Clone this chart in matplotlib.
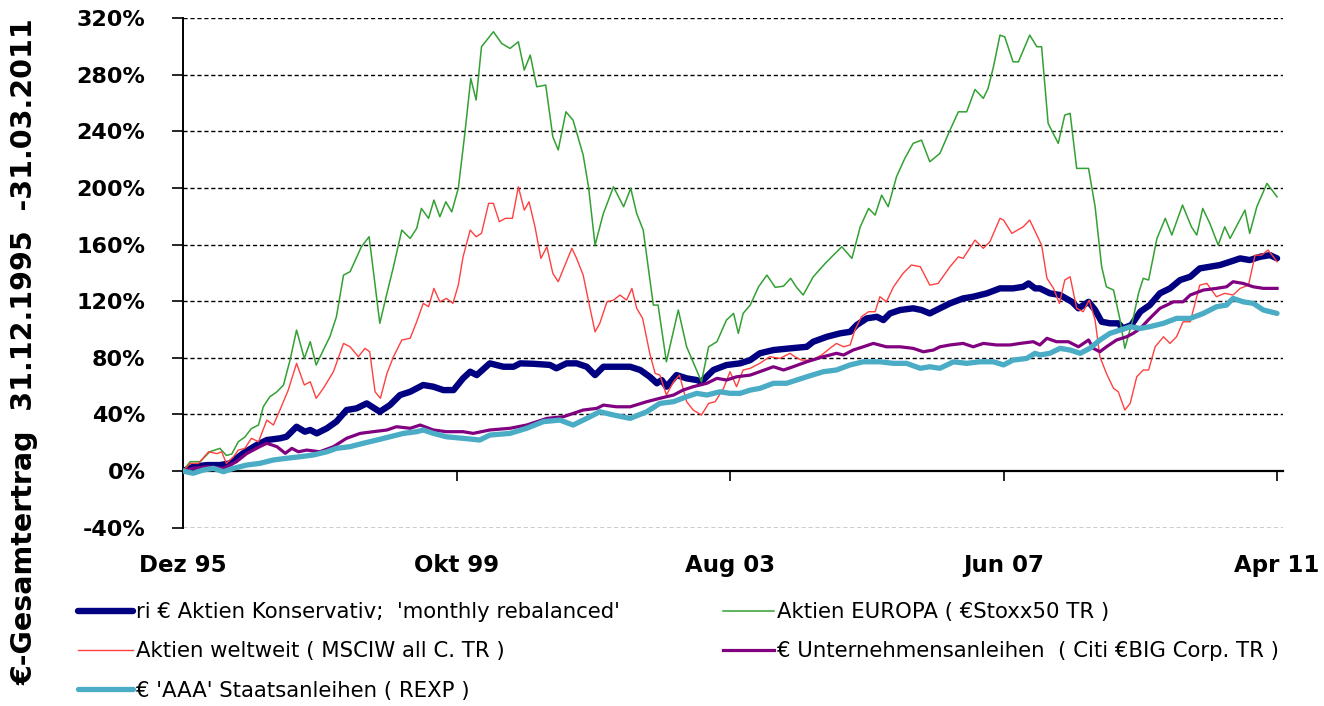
import matplotlib
matplotlib.use("Agg")
import matplotlib.pyplot as plt

# x = months since 31.12.1995, y = cumulative total return in %
konservativ_m = [0, 1.7, 4.0, 6.2, 7.9, 10.1, 12.4, 14.1, 16.3, 17.4, 19.1, 20.5, 21.4, 22.5, 24.2,
                 25.8, 27.5, 29.2, 30.9, 33.1, 34.8, 36.5, 38.2, 40.4, 42.1, 43.8, 45.5, 47.1, 48.3,
                 49.4, 51.6, 53.9, 55.6, 56.7, 58.9, 61.7, 62.8, 64.5, 66.2, 67.9, 69.3, 70.7, 72.9,
                 75.2, 76.9, 78.5, 79.7, 80.5, 81.3, 83.0, 84.7, 86.4, 87.2, 89.2, 91.4, 93.7, 95.4,
                 97.0, 99.3, 102.1, 104.9, 106.0, 108.3, 110.5, 112.2, 113.3, 115.0, 116.7, 117.8,
                 118.9, 120.6, 122.8, 124.2, 125.6, 127.3, 129.0, 131.2, 132.9, 135.2, 137.4, 139.6,
                 141.3, 142.2, 143.3, 144.1, 145.8, 147.5, 149.5, 150.6, 152.3, 153.4, 154.5, 155.9,
                 157.3, 158.1, 159.5, 161.0, 162.6, 164.3, 166.0, 167.7, 169.4, 171.0, 172.7, 174.4,
                 176.1, 177.8, 179.4, 181.1, 182.8, 184]
konservativ = [0, 3, 4.2, 4.2, 5.4, 12.5, 18.4, 21.9, 23.1, 24.2, 31.3, 27.8, 29, 26.6, 30.2,
               34.9, 43.1, 44.3, 47.8, 41.9, 46.6, 53.7, 56, 60.8, 59.6, 57.2, 57.2, 65.5, 70.2,
               67.8, 76.1, 73.7, 73.7, 76.1, 75.8, 75, 72.6, 76.1, 76.1, 73.7, 67.8, 73.7, 73.7,
               73.7, 71.4, 66.6, 62, 64.3, 59.6, 67.8, 65.5, 64.3, 63.1, 71.4, 74.9, 76.1, 78.4,
               83.2, 85.5, 86.7, 87.8, 91.4, 94.9, 97.3, 98.4, 103.2, 107.9, 109, 106.7,
               111.4, 113.8, 115, 113.8, 111.4, 115, 118.5, 122, 123.2, 125.6, 129.1, 129.1,
               130.2, 132.6, 129.1, 129.1, 125.6, 124.4, 119.6, 115, 119.6, 113.8, 105.5, 104.4,
               104.4, 100.8, 103.2, 112.6, 117.3, 125.6, 129.1, 135, 137.3, 143.2, 144.4, 145.6,
               147.9, 150.3, 149.1, 151.4, 152.6, 150.3]

europa_m = [0, 1.2, 2.9, 4.5, 6.2, 7.3, 8.2, 9.3, 10.4, 11.5, 12.7, 13.5, 14.6, 15.8, 16.9, 18.0,
            19.1, 20.4, 21.4, 22.4, 23.6, 24.7, 25.8, 27.0, 28.1, 30.0, 31.3, 33.1, 34.3, 35.4,
            36.8, 38.2, 39.3, 40.1, 41.3, 42.2, 43.2, 44.2, 45.2, 46.3, 47.4, 48.4, 49.3, 50.2,
            52.2, 53.6, 55.0, 56.4, 57.4, 58.4, 59.5, 61.0, 62.2, 63.1, 64.4, 65.6, 67.3, 68.2,
            69.3, 70.7, 72.4, 74.1, 75.3, 76.3, 77.4, 79.1, 79.9, 81.3, 83.3, 84.7, 87.2, 88.4,
            89.8, 91.4, 92.6, 93.4, 94.2, 95.4, 96.8, 98.2, 99.6, 101.0, 102.2, 103.2, 104.3,
            106.0, 108.0, 109.1, 110.8, 112.5, 113.9, 115.3, 116.4, 117.5, 118.6, 120.0, 121.4,
            122.8, 124.2, 125.6, 127.3, 129.0, 130.4, 131.8, 133.2, 134.6, 135.4, 136.3, 137.4,
            138.2, 139.6, 140.5, 142.4, 143.6, 144.4, 145.5, 147.2, 148.3, 149.2, 150.3, 152.3,
            153.4, 154.5, 155.3, 156.5, 157.6, 158.4, 159.8, 160.7, 161.5, 162.4, 163.8, 165.2,
            166.3, 168.1, 169.6, 170.5, 171.5, 172.7, 174.1, 175.2, 176.1, 178.6, 179.4, 180.6,
            182.3, 184]
europa = [0, 6.6, 6.6, 13.6, 16, 11, 12, 20.7, 24, 30, 32.5, 45.4, 52.5, 56, 60.8, 78.4,
          99.6, 79.6, 91.4, 74.9, 85.5, 94.9, 109, 138.5, 140.9, 158.5, 165.6, 104.4, 125.6, 144.4,
          170.3, 164.4, 171.5, 185.6, 178.6, 191.5, 179.7, 190.3, 183.2, 199.8, 238.6, 277.5, 262.2, 299.9,
          310.5, 302.2, 298.7, 303.4, 283.4, 294, 271.6, 272.8, 236.3, 226.9, 253.9, 248, 223.4, 200.9,
          159.7, 182.1, 200.9, 186.8, 199.8, 182.1, 170.3, 117.3, 117.3, 77.2, 113.8, 87.8, 63.1, 87.8,
          91.4, 106.7, 111.4, 97.3, 111.4, 117.3, 130.2, 138.5, 129.8, 130.7, 136.2, 129.8, 124.4,
          137.3, 146.7, 151.4, 158.5, 150.3, 172.6, 185.6, 180.9, 195, 186.8, 208, 221,
          231.6, 233.9, 218.6, 224.5, 241, 253.9, 253.9, 269.7, 263.4, 270.5, 285.7, 308.1,
          306.9, 289.2, 289.2, 308.1, 299.9, 299.9, 245.7, 231.6, 251.6, 252.8, 213.9, 213.9,
          186.8, 144.4, 130.2, 127.9, 106.7, 86.7, 107.9, 125.6, 136.2, 135, 164.4, 178.6,
          166.8, 188, 172.6, 166.8, 185.6, 175, 159.7, 172.6, 164.4, 184.4, 168, 186.8,
          203.3, 193.8]

weltweit_m = [0, 1.2, 2.6, 4.3, 5.7, 6.5, 7.3, 8.5, 9.3, 10.4, 11.5, 12.7, 14.1, 15.2, 16.3, 17.7,
              19.1, 20.4, 21.4, 22.4, 23.6, 25.3, 27.0, 28.1, 29.5, 30.6, 31.4, 32.3, 33.2, 34.3,
              35.4, 36.8, 38.2, 39.3, 40.4, 41.3, 42.2, 43.2, 44.3, 45.4, 46.3, 47.1, 48.3, 49.3,
              50.2, 51.4, 52.2, 53.2, 54.2, 55.4, 56.4, 57.4, 58.2, 59.2, 60.2, 61.2, 62.2, 63.1,
              65.4, 66.2, 67.3, 68.4, 69.3, 70.1, 71.3, 72.4, 73.5, 74.6, 75.5, 76.3, 77.3, 78.5,
              79.4, 80.2, 81.3, 82.5, 83.5, 84.7, 85.8, 87.2, 88.4, 89.5, 90.9, 92.0, 93.1, 94.2,
              95.4, 97.0, 98.7, 100.4, 102.1, 102.9, 104.0, 105.7, 107.4, 108.8, 109.9, 111.1,
              112.2, 113.0, 114.1, 115.3, 116.4, 117.2, 118.3, 119.5, 121.1, 122.5, 124.0, 125.6,
              127.0, 129.0, 130.4, 131.2, 133.2, 134.6, 135.7, 137.4, 138.0, 139.4, 141.3, 142.4,
              144.4, 145.3, 146.4, 147.4, 148.3, 149.2, 150.3, 151.4, 152.4, 153.4, 154.2, 155.3,
              156.5, 157.3, 158.4, 159.3, 160.4, 161.5, 162.4, 163.5, 164.9, 166.0, 167.1, 168.2,
              169.4, 171.0, 172.2, 173.8, 175.2, 176.6, 177.8, 179.2, 180.3, 181.4, 182.5, 184]
weltweit = [0, 5.4, 5.4, 13.6, 12.3, 13.6, 5.4, 10.1, 14.8, 16, 23.1, 20.7, 36, 32.5, 43.1, 57.2,
            76.1, 60.8, 63.1, 51.4, 58.4, 70.2, 90.2, 87.8, 80.8, 86.7, 84.3, 56, 51.4, 69,
            80.8, 92.6, 93.8, 105.5, 118.5, 116.1, 129.1, 119.6, 122, 118.5, 131.4, 151.4, 170.3, 165.6,
            168, 189.2, 189.2, 176.2, 178.6, 178.6, 200.9, 184.4, 190.3, 172.6, 150.3, 158.5, 139.7, 133.8,
            157.4, 150.3, 138.5, 116.1, 98.4, 104.4, 119.6, 120.8, 124.4, 120.8, 129.1, 115, 107.9, 83.2,
            69, 67.8, 53.7, 63.1, 67.8, 49, 43.1, 39.6, 47.8, 49, 58.4, 70.2, 59.6, 71.4,
            72.6, 76.1, 80.8, 79.6, 83.2, 80.8, 78.4, 78.4, 82, 86.7, 90.2, 87.8,
            89.1, 99.6, 109, 112.6, 112.6, 123.2, 119.6, 130.2, 139.7, 145.6, 144.4, 131.4,
            132.6, 144.4, 151.4, 150.3, 163.2, 157.4, 162, 178.6, 177.4, 168, 172.6, 177.4,
            159.7, 136.2, 129.1, 118.5, 135, 137.3, 115, 112.6, 120.8, 106.7, 80.8, 69,
            58.4, 56, 43.1, 47.8, 66.6, 71.4, 71.4, 87.8, 94.9, 90.2, 94.9, 105.5,
            105.5, 131.4, 132.6, 123.2, 125.6, 124.4, 129.1, 131.4, 152.6, 152.6, 156.2, 147.9]

unternehmen_m = [0, 1.7, 4.0, 6.8, 9.0, 10.7, 12.9, 14.1, 15.8, 17.2, 18.3, 19.4, 20.8, 23.0, 25.3,
                 27.5, 29.8, 32.0, 34.3, 35.9, 38.2, 39.9, 42.1, 44.3, 47.1, 48.8, 51.6, 55.0, 57.8,
                 61.2, 64.0, 67.3, 69.6, 70.7, 72.9, 75.2, 78.0, 80.2, 82.5, 84.1, 85.8, 88.1, 89.8,
                 91.4, 93.1, 95.4, 97.0, 99.3, 101.0, 102.6, 104.9, 107.7, 109.9, 111.1, 112.7,
                 114.4, 116.1, 118.3, 120.6, 122.8, 124.5, 126.2, 127.3, 129.0, 131.2, 132.9, 134.6,
                 136.8, 139.1, 140.8, 143.0, 144.1, 145.3, 146.9, 148.9, 150.6, 152.3, 153.1, 154.2,
                 155.3, 157.0, 158.7, 159.8, 161.0, 162.6, 164.3, 166.6, 168.2, 169.4, 171.6, 173.8,
                 175.5, 176.6, 178.3, 180.0, 181.7, 184]
unternehmen = [0, 1.9, 3, 1.9, 6.6, 12.3, 17.2, 19.6, 17.2, 12.5, 16, 13.6, 14.8, 13.6, 17.2,
               23.1, 26.6, 27.8, 29, 31.3, 30.2, 32.5, 29, 27.8, 27.8, 26.6, 29, 30.2, 32.5,
               37.2, 38.4, 43.1, 44.3, 46.6, 45.4, 45.4, 49, 51.4, 53.7, 57.2, 59.6, 62, 65.5,
               64.3, 66.6, 67.8, 70.2, 73.7, 71.4, 73.7, 77.2, 80.8, 83.2, 82, 85.5,
               87.8, 90.2, 87.8, 87.8, 86.7, 84.3, 85.5, 87.8, 89.1, 90.2, 87.8, 90.2,
               89.1, 89.1, 90.2, 91.4, 89.1, 93.8, 91.4, 91.4, 87.8, 92.6, 86.7, 84.3,
               87.8, 92.6, 94.9, 97.3, 100.8, 107.9, 115, 119.6, 119.6, 124.4, 127.9, 129.1,
               130.2, 133.8, 132.6, 130.2, 129.1, 129.1]

staat_m = [0, 1.7, 3.4, 5.1, 6.8, 8.5, 10.7, 12.9, 15.2, 17.4, 19.7, 21.9, 24.2, 25.8, 28.1,
           30.3, 32.6, 34.8, 37.1, 39.3, 40.4, 42.1, 44.3, 47.1, 49.9, 51.6, 55.0, 57.8, 60.6,
           63.4, 65.6, 67.9, 70.1, 72.4, 75.2, 78.0, 80.2, 82.5, 84.7, 86.4, 88.1, 90.3, 92.0,
           93.7, 95.4, 97.0, 99.3, 101.5, 104.9, 107.7, 109.9, 112.2, 114.4, 117.2, 119.5,
           121.7, 124.0, 125.6, 127.3, 129.6, 131.8, 134.0, 136.3, 138.0, 139.6, 141.9, 143.3,
           144.1, 145.8, 147.5, 149.2, 150.9, 152.5, 154.2, 155.9, 157.6, 159.3, 161.0, 162.6,
           164.9, 167.1, 169.4, 171.6, 173.8, 175.5, 176.6, 178.3, 180.0, 181.7, 184]
staat = [0, -1.6, 0.7, 1.9, -0.5, 1.9, 4.2, 5.4, 7.8, 9, 10.1, 11.3, 13.6, 16, 17.2,
         19.6, 21.9, 24.2, 26.6, 27.8, 29, 26.6, 24.2, 23.1, 21.9, 25.4, 26.6, 30.2, 34.9,
         36, 32.5, 37.2, 41.9, 39.6, 37.2, 41.9, 47.8, 49, 52.5, 54.9, 53.7, 56, 54.9,
         54.9, 57.2, 58.4, 62, 62, 66.6, 70.2, 71.4, 75, 77.2, 77.2, 76.1,
         76.1, 72.6, 73.7, 72.6, 77.2, 76.1, 77.2, 77.2, 75, 78.4, 79.6, 83.2,
         82, 83.2, 86.7, 85.5, 83.2, 86.7, 92.6, 97.3, 99.6, 102, 100.8, 102,
         104.4, 107.9, 107.9, 111.4, 116.1, 117.3, 122, 119.6, 118.5, 113.8, 111.4]

tick_months = [0, 46, 92, 138, 184]
tick_labels = ["Dez 95", "Okt 99", "Aug 03", "Jun 07", "Apr 11"]
y_ticks = [-40, 0, 40, 80, 120, 160, 200, 240, 280, 320]

labels = ["ri € Aktien Konservativ;  'monthly rebalanced'",
          "Aktien EUROPA ( €Stoxx50 TR )",
          "Aktien weltweit ( MSCIW all C. TR )",
          "€ Unternehmensanleihen  ( Citi €BIG Corp. TR )",
          "€ 'AAA' Staatsanleihen ( REXP )"]

W, H = 1324, 706
fig = plt.figure(figsize=(W / 100, H / 100), dpi=100)
ax = fig.add_axes([183 / W, 1 - 527.6 / H, 1100 / W, 509.3 / H])

# series order as in the source chart (later ones on top)
l_kons, = ax.plot(konservativ_m, konservativ, color="#000080", lw=4.6,
                  solid_joinstyle="round", solid_capstyle="round", zorder=3)
l_eur, = ax.plot(europa_m, europa, color="#33a033", lw=1.1, zorder=4)
l_welt, = ax.plot(weltweit_m, weltweit, color="#ff4040", lw=1.0, zorder=5)
l_unt, = ax.plot(unternehmen_m, unternehmen, color="#800080", lw=2.3,
                 solid_joinstyle="round", zorder=6)
l_st, = ax.plot(staat_m, staat, color="#4bacc6", lw=3.8,
                solid_joinstyle="round", solid_capstyle="round", zorder=7)

ax.set_xlim(0, 185)
ax.set_ylim(-40, 320)

ax.set_yticks(y_ticks)
ax.set_yticklabels([f"{v}%" for v in y_ticks], fontsize=16, fontweight="bold")
for v in y_ticks:
    if v != 0:
        ax.axhline(v, color="black", lw=1.0, ls=(0, (3, 2)), zorder=1)

ax.spines["top"].set_visible(False)
ax.spines["right"].set_visible(False)
ax.spines["left"].set_linewidth(1.4)
ax.spines["bottom"].set_position(("data", 0))
ax.spines["bottom"].set_linewidth(1.6)
ax.spines["bottom"].set_zorder(2)

ax.set_xticks(tick_months)
ax.set_xticklabels(tick_labels, fontsize=16.5, fontweight="bold")
ax.tick_params(axis="x", direction="out", length=7.5, width=1.2, pad=52)
ax.tick_params(axis="y", direction="out", length=8, width=1.2, pad=19)

fig.text(25 / W, 1 - 352 / H, "€-Gesamtertrag  31.12.1995  -31.03.2011",
         rotation=90, ha="center", va="center", fontsize=20.5, fontweight="bold")

common = dict(loc="upper left", frameon=False, fontsize=15.3, handletextpad=0.12,
              labelspacing=0.91, borderpad=0, borderaxespad=0)
fig.legend([l_kons, l_welt, l_st], [labels[0], labels[2], labels[4]],
           bbox_to_anchor=(78 / W, 1 - 602 / H), handlelength=2.6, **common)
fig.legend([l_eur, l_unt], [labels[1], labels[3]],
           bbox_to_anchor=(723 / W, 1 - 602 / H), handlelength=2.4, **common)

fig.savefig("out.png", dpi=100)
